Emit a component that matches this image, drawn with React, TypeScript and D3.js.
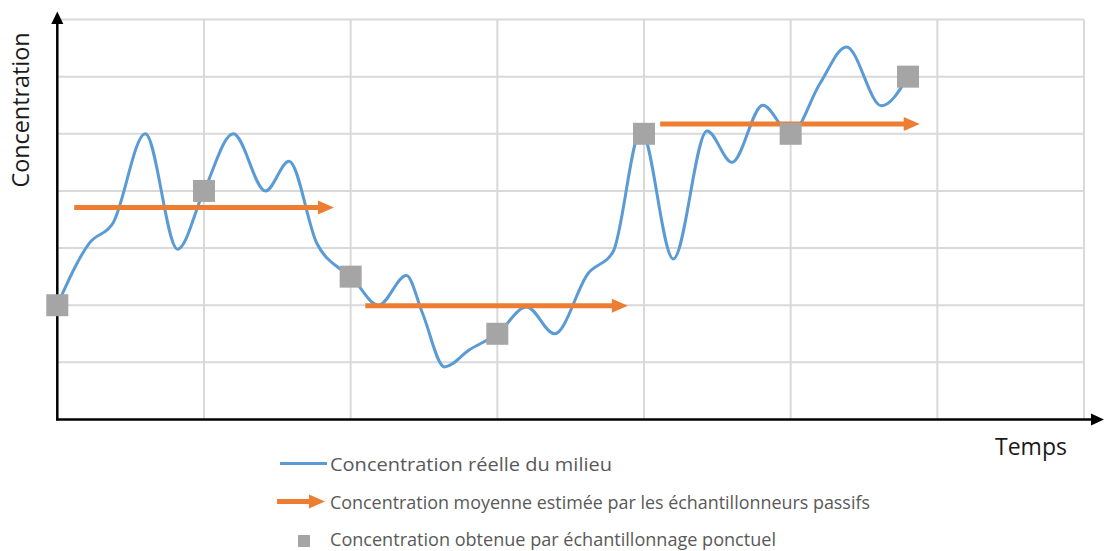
import * as d3 from "d3";

// real concentration curve (x in time units, y in concentration units)
const realX = [0, 0.22, 0.38, 0.6, 0.82, 1, 1.2, 1.42, 1.58, 1.77, 1.93, 2, 2.19, 2.38, 2.49, 2.64, 2.81, 3, 3.2, 3.39, 3.62, 3.79, 3.98, 4.2, 4.43, 4.6, 4.81, 5, 5.2, 5.38, 5.62, 5.8];
const realY = [2, 3.09, 3.44, 5.0, 2.98, 4, 5, 4, 4.52, 3.08, 2.63, 2.5, 2.0, 2.52, 1.86, 0.92, 1.22, 1.5, 1.97, 1.5, 2.56, 2.94, 5.05, 2.81, 5.05, 4.5, 5.5, 5, 5.88, 6.52, 5.49, 6];

// spot samples
const sampleX = [0, 1, 2, 3, 4, 5, 5.8];
const sampleY = [2, 4, 2.5, 1.5, 5, 5, 6];

// passive sampler averages
const avgStart = [0.115, 2.1, 4.11];
const avgEnd = [1.886, 3.89, 5.88];
const avgLevel = [3.71, 1.99, 5.17];

const gridTicks = [1, 2, 3, 4, 5, 6, 7];

const legendLabels = [
  "Concentration réelle du milieu",
  "Concentration moyenne estimée par les échantillonneurs passifs",
  "Concentration obtenue par échantillonnage ponctuel",
];

const BLUE = "#5b9bd5";
const ORANGE = "#ed7d31";
const GREY = "#a5a5a5";
const GRID = "#d9d9d9";
const FONT = "'Open Sans', sans-serif";

export default function App() {
  const width = 1104;
  const height = 551;
  const x = d3.scaleLinear().domain([0, 7]).range([57.3, 1084]);
  const y = d3.scaleLinear().domain([0, 7]).range([419.5, 19.5]);

  const line = d3
    .line<number>()
    .x((d) => x(d))
    .y((d, i) => y(realY[i]))
    .curve(d3.curveMonotoneX);

  const sq = 22;
  const head = 16;

  const arrow = (x1: number, x2: number, yy: number, key: string) => (
    <g key={key}>
      <line x1={x1} x2={x2 - head + 1} y1={yy} y2={yy} stroke={ORANGE} strokeWidth={5} />
      <path d={`M${x2 - head},${yy - 7}L${x2},${yy}L${x2 - head},${yy + 7}Z`} fill={ORANGE} />
    </g>
  );

  return (
    <svg
      width={width}
      height={height}
      style={{ position: "absolute", left: 0, top: 0, background: "#fff" }}
    >
      <g>
        {gridTicks.map((t) => (
          <line key={"h" + t} x1={x(0)} x2={x(7)} y1={y(t)} y2={y(t)} stroke={GRID} strokeWidth={2} />
        ))}
        {gridTicks.map((t) => (
          <line key={"v" + t} x1={x(t)} x2={x(t)} y1={y(0)} y2={y(7)} stroke={GRID} strokeWidth={2} />
        ))}
      </g>

      {/* axes */}
      <line x1={x(0)} x2={x(0)} y1={y(0) + 1} y2={24} stroke="#000" strokeWidth={2.5} />
      <path d={`M${x(0) - 6},24L${x(0)},11.5L${x(0) + 6},24Z`} fill="#000" />
      <line x1={x(0) - 1} x2={1092} y1={y(0)} y2={y(0)} stroke="#000" strokeWidth={2.5} />
      <path d={`M1091,${y(0) - 6}L1104,${y(0)}L1091,${y(0) + 6}Z`} fill="#000" />

      <path d={line(realX) || ""} fill="none" stroke={BLUE} strokeWidth={3} />

      {avgStart.map((s, i) => arrow(x(s), x(avgEnd[i]), y(avgLevel[i]), "a" + i))}

      {sampleX.map((sx, i) => (
        <rect key={"s" + i} x={x(sx) - sq / 2} y={y(sampleY[i]) - sq / 2} width={sq} height={sq} fill={GREY} />
      ))}

      <text
        transform="translate(29,110) rotate(-90)"
        textAnchor="middle"
        fontFamily={FONT}
        fontSize={23}
        fill="#1a1a1a"
        textLength={155}
        lengthAdjust="spacingAndGlyphs"
      >
        Concentration
      </text>
      <text x={995} y={455} fontFamily={FONT} fontSize={24} fill="#1a1a1a" textLength={72} lengthAdjust="spacingAndGlyphs">
        Temps
      </text>

      {/* legend */}
      <line x1={280} x2={327} y1={463.5} y2={463.5} stroke={BLUE} strokeWidth={3} />
      {arrow(277, 325, 501.5, "legArrow")}
      <rect x={298} y={535} width={12} height={12} fill={GREY} />
      {legendLabels.map((l, i) => (
        <text
          key={l}
          x={330}
          y={[471, 509, 546][i]}
          fontFamily={FONT}
          fontSize={18}
          fill="#595959"
          textLength={[282, 540, 446][i]}
          lengthAdjust="spacingAndGlyphs"
        >
          {l}
        </text>
      ))}
    </svg>
  );
}
